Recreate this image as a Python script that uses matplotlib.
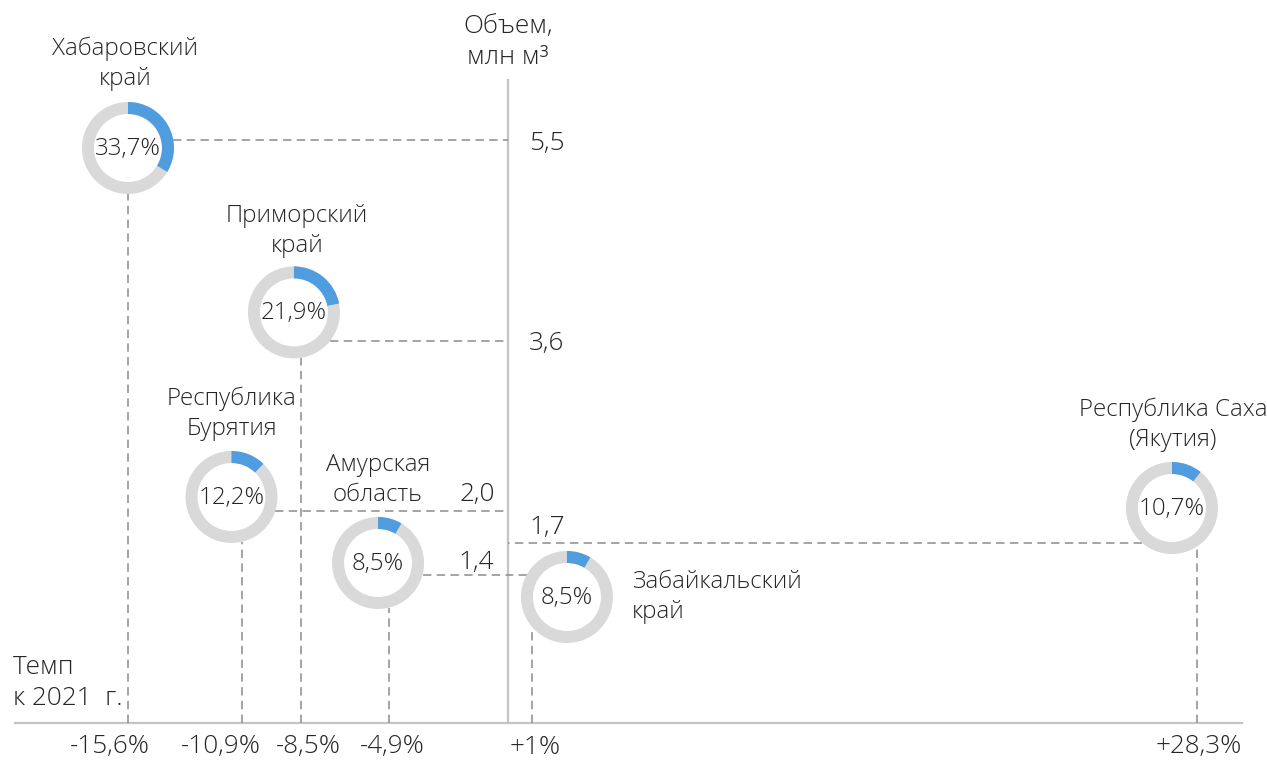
import numpy as np
import matplotlib.pyplot as plt
from matplotlib.patches import Wedge
from matplotlib import transforms

# данные
regions = ['Хабаровский\nкрай', 'Приморский\nкрай', 'Республика\nБурятия',
           'Амурская\nобласть', 'Забайкальский\nкрай', 'Республика Саха\n(Якутия)']
growth = [-15.6, -8.5, -10.9, -4.9, 1.0, 28.3]          # темп к 2021 г., %
volume = [5.5, 3.6, 2.0, 1.4, 1.4, 1.7]                 # объем, млн м3
share = [33.7, 21.9, 12.2, 8.5, 8.5, 10.7]              # доля, %
growth_labels = ['-15,6%', '-8,5%', '-10,9%', '-4,9%', '+1%', '+28,3%']
volume_labels = ['5,5', '3,6', '2,0', '1,4', '1,4', '1,7']

# раскладка (пиксели)
W, H = 1267, 760
x0_px, sx = 508, 24.36
y0_px, sy = 723, 106
R, RW = 46, 12
# смещение центра кольца от точки (вправо, вверх)
donut_off = [(0, -8), (-7, 29), (-11, 14), (-10.6, 11.6), (34.6, -22.4), (-25.4, 34.8)]
# смещение подписи региона от центра кольца
name_off = [(-3, 84), (3, 81), (0, 83), (0, 83), (65, 0), (1, 83)]
name_ha = ['center', 'center', 'center', 'center', 'left', 'center']
# сдвиг подписей темпа по горизонтали
tick_dx = [-18, 7, -21.5, 3.4, 2.6, 1.6]
# подписи объема: (dx, dy, ha) от точки на оси
vol_txt = [(21, -3, 'left'), (21, -2, 'left'), (-13, 17, 'right'), (-14, 12, 'right'),
           None, (21, 15, 'left')]

txt_c = '#262626'
grey = '#d9d9d9'
blue = '#4f9ddf'
line_c = '#8c8c8c'
axis_c = '#c4c4c4'
fs = 17.4
fs2 = 18.8

plt.rcParams['font.family'] = ['Open Sans', 'DejaVu Sans']
plt.rcParams['font.weight'] = 'light'

fig = plt.figure(figsize=(W / 100, H / 100), dpi=100)
ax = fig.add_axes([0, 0, 1, 1])
ax.set_xlim(-x0_px / sx, (W - x0_px) / sx)
ax.set_ylim((y0_px - H) / sy, y0_px / sy)
ax.axis('off')

# оси
ax.plot([(15 - x0_px) / sx, (1242 - x0_px) / sx], [0, 0], color=axis_c, lw=1.6, zorder=1)
ax.plot([0, 0], [0, (y0_px - 80) / sy], color=axis_c, lw=1.6, zorder=1)

dash = dict(color=line_c, lw=1.1, ls=(0, (5.5, 3.5)), zorder=2)

for i in range(len(regions)):
    g, v = growth[i], volume[i]
    ox, oy = donut_off[i]
    trans = fig.dpi_scale_trans + transforms.ScaledTranslation(g, v, ax.transData)

    # кольцо
    ax.add_patch(Wedge((ox / 100, oy / 100), R / 100, 0, 360, width=RW / 100,
                       facecolor=grey, edgecolor='none', transform=trans, zorder=4))
    ax.add_patch(Wedge((ox / 100, oy / 100), R / 100, 90 - share[i] * 3.6, 90,
                       width=RW / 100, facecolor=blue, edgecolor='none',
                       transform=trans, zorder=5))
    ax.annotate(f'{share[i]:.1f}%'.replace('.', ','), (g, v), xytext=(ox, oy - 1),
                textcoords='offset pixels', ha='center', va='center',
                fontsize=fs, color=txt_c, zorder=6)

    # горизонтальная линия до оси объема
    side = 1 if g < 0 else -1
    edge_x = g + (ox + side * np.sqrt(R ** 2 - oy ** 2)) / sx
    ax.plot([edge_x, 0], [v, v], **dash)

    # вертикальная линия до оси темпа
    edge_y = v + (oy - np.sqrt(R ** 2 - ox ** 2)) / sy
    ax.plot([g, g], [0, edge_y], **dash)

    # подписи
    nx, ny = name_off[i]
    ax.annotate(regions[i], (g, v), xytext=(ox + nx, oy + ny), textcoords='offset pixels',
                ha=name_ha[i], va='center', fontsize=fs, color=txt_c, linespacing=1.33)
    ax.annotate(growth_labels[i], (g, 0), xytext=(tick_dx[i], -24), textcoords='offset pixels',
                ha='center', va='center', fontsize=fs2, color=txt_c)
    if vol_txt[i] is not None:
        dx, dy, ha = vol_txt[i]
        ax.annotate(volume_labels[i], (0, v), xytext=(dx, dy), textcoords='offset pixels',
                    ha=ha, va='center', fontsize=fs2, color=txt_c)

ax.annotate('Объем,\nмлн м³', (0, y0_px / sy), xytext=(0, -42), textcoords='offset pixels',
            ha='center', va='center', fontsize=fs2, color=txt_c, linespacing=1.3)
ax.annotate('Темп\nк 2021  г.', (-x0_px / sx, 0), xytext=(13, 40), textcoords='offset pixels',
            ha='left', va='center', fontsize=fs2, color=txt_c, linespacing=1.3)

plt.savefig('out.png', dpi=100)
